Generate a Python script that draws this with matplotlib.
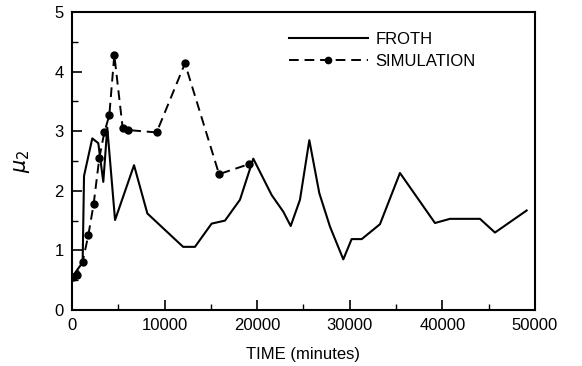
import matplotlib.pyplot as plt
from matplotlib.ticker import MultipleLocator

# froth (measured) data
froth_t = [0, 1150, 1300, 2190, 2840, 3380, 3810, 4650, 6700, 8140, 12000, 13280,
           15080, 16520, 18140, 19580, 21560, 22820, 23620, 24620, 25630, 26710,
           27860, 29300, 30200, 31290, 33260, 35420, 39200, 40820, 44060, 45680, 49100]
froth_mu2 = [0.55, 0.80, 2.25, 2.88, 2.80, 2.15, 3.06, 1.51, 2.43, 1.62, 1.06, 1.06,
             1.45, 1.50, 1.85, 2.54, 1.93, 1.65, 1.41, 1.85, 2.85, 1.96,
             1.40, 0.85, 1.19, 1.19, 1.44, 2.30, 1.46, 1.53, 1.53, 1.30, 1.67]

# simulation data
sim_t = [75, 500, 1150, 1770, 2340, 2950, 3490, 4030, 4570, 5470, 6080, 9140,
         12200, 15880, 19150]
sim_mu2 = [0.55, 0.58, 0.81, 1.26, 1.78, 2.55, 2.98, 3.27, 4.28, 3.06, 3.02, 2.98,
           4.14, 2.28, 2.45]

plt.rcParams['font.family'] = ['Liberation Sans', 'DejaVu Sans']

fig = plt.figure(figsize=(5.82, 3.66), dpi=100)
ax = fig.add_axes([0.1237, 0.153, 0.7955, 0.814])

ax.plot(froth_t, froth_mu2, color='black', lw=1.5, label='FROTH')
ax.plot(sim_t, sim_mu2, color='black', lw=1.4, ls=(0, (5, 3)), marker='o',
        markersize=5, label='SIMULATION')

ax.set_xlim(0, 50000)
ax.set_ylim(0, 5)
ax.xaxis.set_major_locator(MultipleLocator(10000))
ax.xaxis.set_minor_locator(MultipleLocator(5000))
ax.yaxis.set_major_locator(MultipleLocator(1))
ax.yaxis.set_minor_locator(MultipleLocator(0.5))
ax.tick_params(which='major', direction='in', length=7, width=1.2, labelsize=12, pad=6)
ax.tick_params(which='minor', direction='in', length=4, width=1.0)
for s in ax.spines.values():
    s.set_linewidth(1.5)

ax.set_xlabel('TIME (minutes)', fontsize=12, labelpad=10)
ax.set_ylabel(r'$\mu_2$', fontsize=15, labelpad=16)

leg = ax.legend(loc='upper left', bbox_to_anchor=(0.437, 0.985), frameon=False,
                fontsize=12, handlelength=4.7, handletextpad=0.45, labelspacing=0.45,
                markerscale=0.9)
leg.legend_handles[1].set_markevery([1])

plt.savefig('out.png', dpi=100)
